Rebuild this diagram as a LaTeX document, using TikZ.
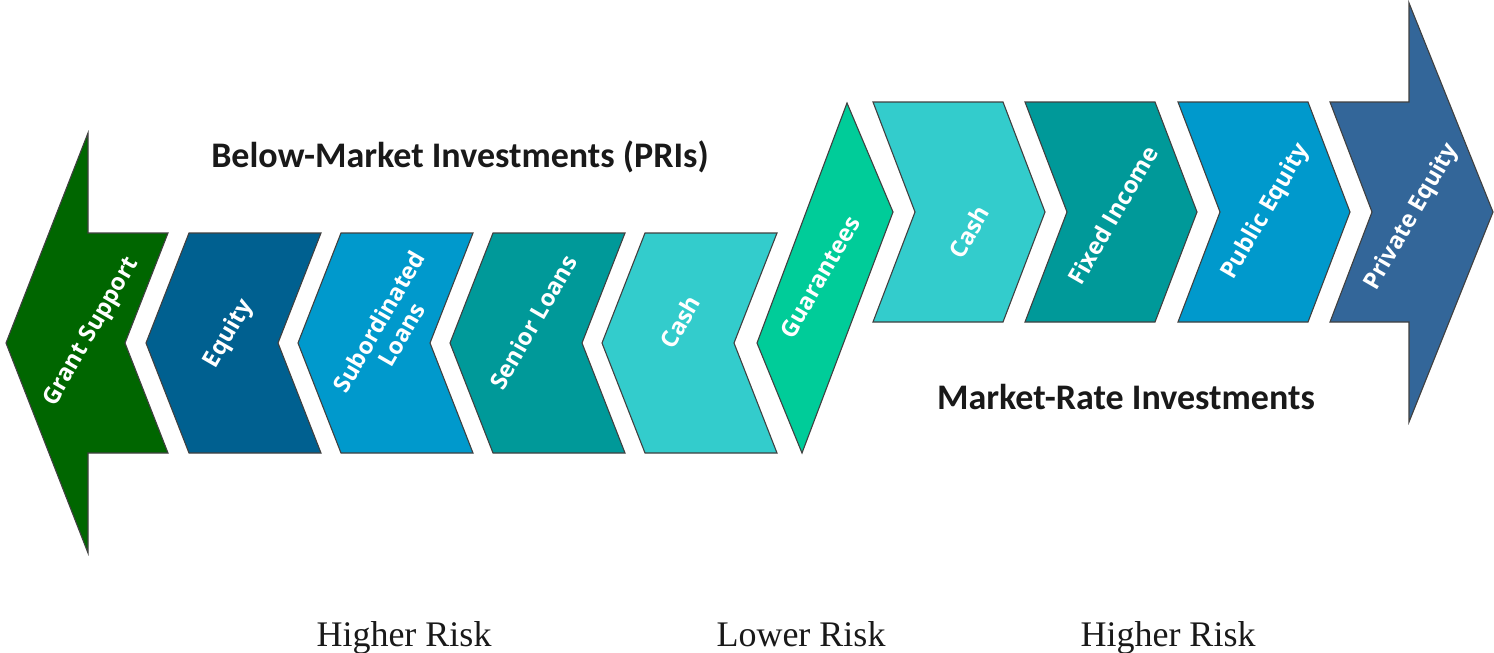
\documentclass[tikz,border=0pt]{standalone}
\usepackage{fontspec}
\setmainfont{Liberation Serif}
\newfontfamily\headfont{Carlito}
\newfontfamily\tagfont{Open Sans}

\definecolor{grantgreen}{RGB}{0,102,0}
\definecolor{equityblue}{RGB}{0,96,144}
\definecolor{skyblue}{RGB}{0,153,204}
\definecolor{loanteal}{RGB}{0,153,153}
\definecolor{cashcyan}{RGB}{51,204,204}
\definecolor{guargreen}{RGB}{0,204,153}
\definecolor{privblue}{RGB}{51,102,153}

\tikzset{
  block/.style={draw=black!75, line width=1.1pt, line join=miter},
  tag/.style={text=white, font=\tagfont\bfseries\fontsize{23.5}{26}\selectfont,
              rotate=60, inner sep=0pt, align=center},
  heading/.style={font=\headfont\bfseries\fontsize{36}{42}\selectfont, text=black!90, inner sep=0pt},
  risk/.style={font=\fontsize{36}{40}\selectfont, text=black!90, inner sep=0pt, anchor=base}
}

\begin{document}
\begin{tikzpicture}[x=1pt, y=-1pt]
  \useasboundingbox (0,0) rectangle (1494,653);

  % below-market arrow pointing left
  \fill[block, fill=grantgreen] (6,343) -- (88,133) -- (88,233) -- (168,233) -- (125,343)
        -- (168,453) -- (88,453) -- (88,553) -- cycle;
  % below-market chevrons (pointing left)
  \fill[block, fill=equityblue] (189,233) -- (321,233) -- (278,343) -- (321,453) -- (189,453) -- (146,343) -- cycle;
  \fill[block, fill=skyblue]    (341,233) -- (473,233) -- (430,343) -- (473,453) -- (341,453) -- (298,343) -- cycle;
  \fill[block, fill=loanteal]   (493,233) -- (625,233) -- (582,343) -- (625,453) -- (493,453) -- (450,343) -- cycle;
  \fill[block, fill=cashcyan]   (645,233) -- (777,233) -- (734,343) -- (777,453) -- (645,453) -- (602,343) -- cycle;

  % transition piece
  \fill[block, fill=guargreen] (757,343) -- (847,103) -- (893,212) -- (802,453) -- cycle;

  % market-rate chevrons (pointing right)
  \fill[block, fill=cashcyan]  (873,102)  -- (1003,102) -- (1045,212) -- (1003,322) -- (873,322)  -- (915,212)  -- cycle;
  \fill[block, fill=loanteal]  (1025,102) -- (1155,102) -- (1197,212) -- (1155,322) -- (1025,322) -- (1067,212) -- cycle;
  \fill[block, fill=skyblue]   (1178,102) -- (1308,102) -- (1350,212) -- (1308,322) -- (1178,322) -- (1220,212) -- cycle;
  % market-rate arrow pointing right
  \fill[block, fill=privblue]  (1330,102) -- (1409,102) -- (1409,3) -- (1493,212) -- (1409,422)
        -- (1409,322) -- (1330,322) -- (1372,212) -- cycle;

  % labels inside the shapes
  \node[tag] (grant)  at (92,332)   {Grant Support};
  \node[tag] (equity) at (229,334)  {Equity};
  \node[tag] (subord) at (390,328)  {Subordinated\\Loans};
  \node[tag] (senior) at (533,322)  {Senior Loans};
  \node[tag] (cashl)  at (680,322)  {Cash};
  \node[tag] (guar)   at (820,277)  {Guarantees};
  \node[tag] (cashr)  at (969,232)  {Cash};
  \node[tag] (fixed)  at (1113,215) {Fixed Income};
  \node[tag] (public) at (1266,212) {Public Equity};
  \node[tag] (private) at (1412,217) {Private Equity};

  % headings
  \node[heading] (below)  at (460,157)  {Below-Market Investments (PRIs)};
  \node[heading] (market) at (1126,397) {Market-Rate Investments};

  % risk scale
  \node[risk] (riskl) at (404,646)  {Higher Risk};
  \node[risk] (riskm) at (801,646)  {Lower Risk};
  \node[risk] (riskr) at (1168,646) {Higher Risk};
\end{tikzpicture}
\end{document}
